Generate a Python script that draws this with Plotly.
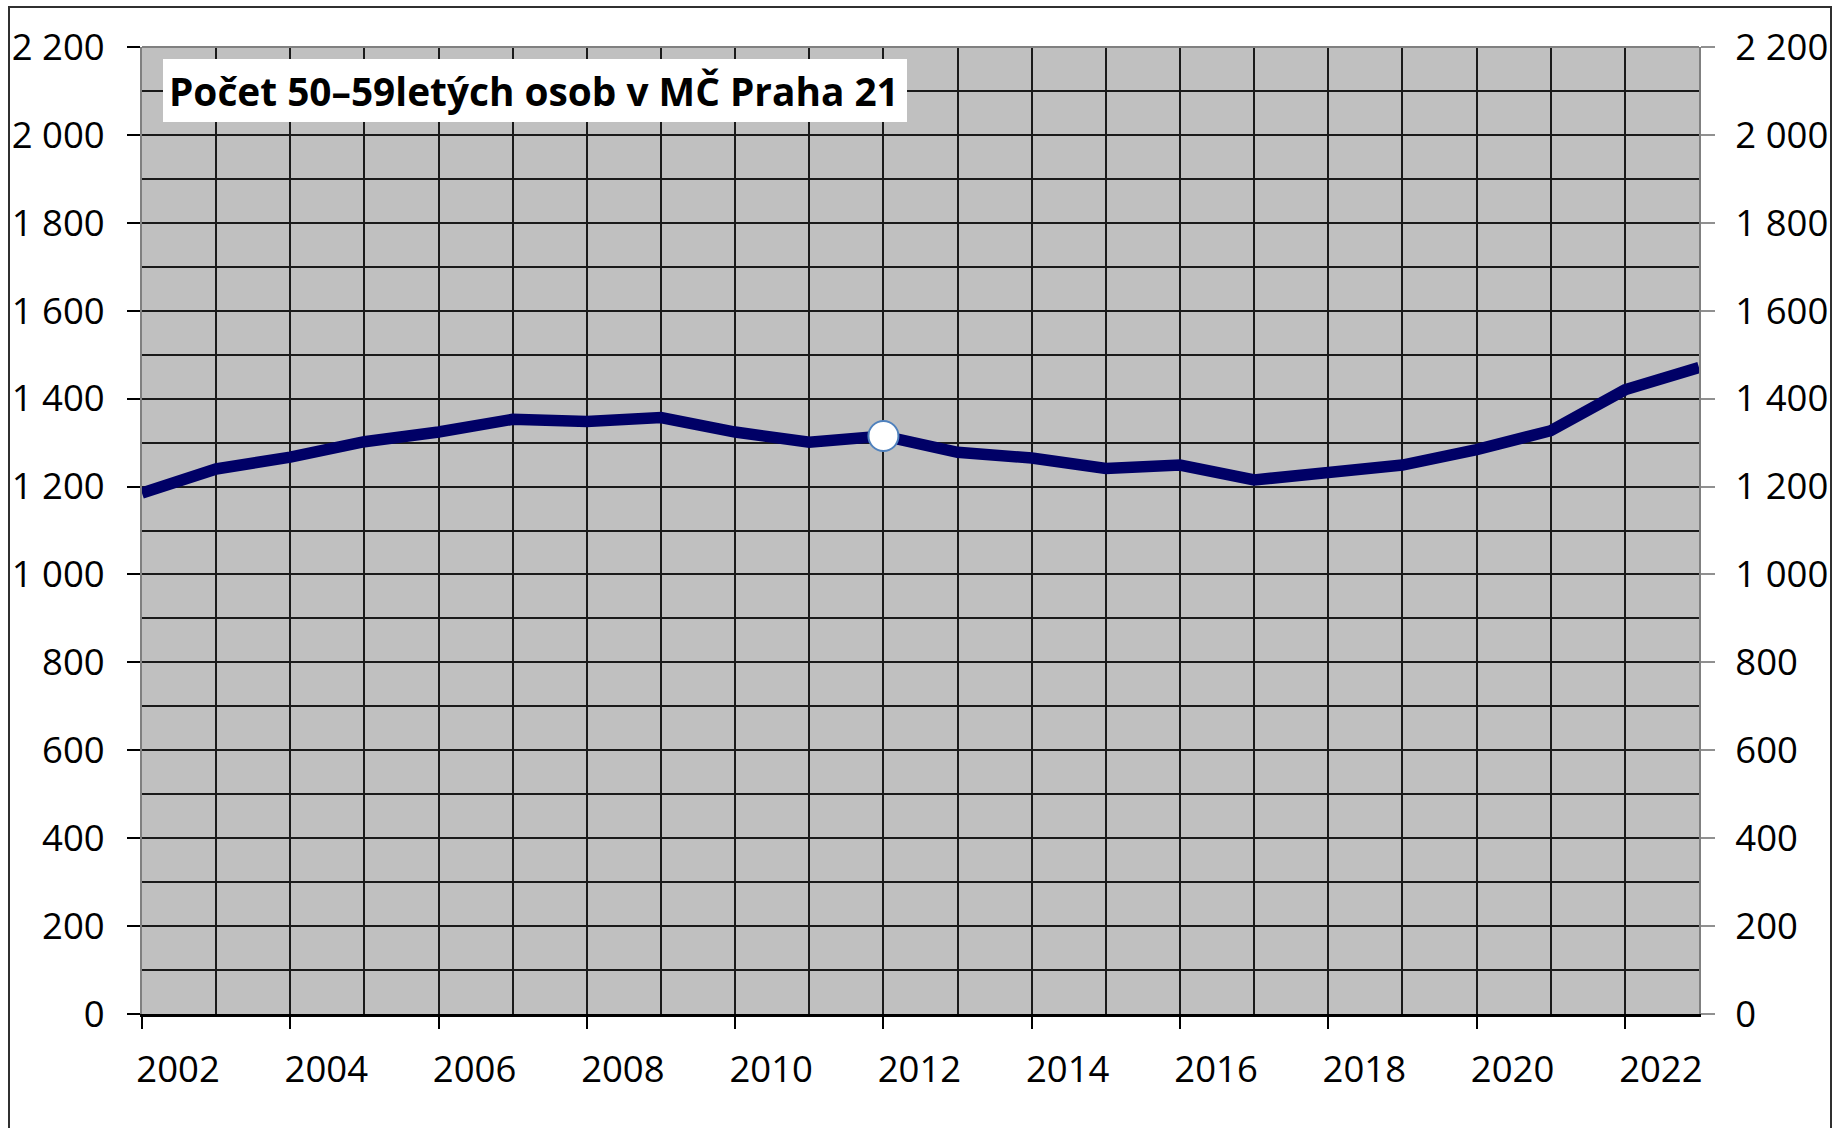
import plotly.graph_objects as go

# ---- data ----
years = list(range(2002, 2024))
persons = [1185, 1240, 1267, 1302, 1324, 1353, 1348, 1357, 1324, 1301, 1315,
           1278, 1265, 1241, 1249, 1215, 1232, 1249, 1284, 1327, 1420, 1471]
highlight_year = 2012
x_tick_years = list(range(2002, 2023, 2))
x_tick_labels = [str(y) for y in x_tick_years]
y_tick_vals = list(range(0, 2201, 200))
y_tick_labels = ["0", "200", "400", "600", "800", "1 000", "1 200", "1 400",
                 "1 600", "1 800", "2 000", "2 200"]
title_text = "Počet 50–59letých osob v MČ Praha 21"

FONT = "Open Sans"
FS = 36.5
W, H = 1835, 1128
L, R, T, B = 142, 136, 47, 114
pw, ph = W - L - R, H - T - B

def px(x):
    return (x - L) / pw

def py(y):
    return (H - B - y) / ph

fig = go.Figure()
fig.add_trace(go.Scatter(
    x=years, y=persons, mode="lines",
    line=dict(color="#000066", width=11.5),
    showlegend=False, hoverinfo="skip",
))
hi = years.index(highlight_year)
fig.add_trace(go.Scatter(
    x=[years[hi]], y=[persons[hi]], mode="markers",
    marker=dict(size=30, color="white", line=dict(color="#4F81BD", width=2)),
    showlegend=False, hoverinfo="skip",
))
fig.add_trace(go.Scatter(x=[years[0]], y=[persons[0]], yaxis="y2", mode="markers",
                         marker=dict(opacity=0), showlegend=False, hoverinfo="skip"))

grid_col = "#1a1a1a"
fig.update_layout(
    template="none",
    width=W, height=H,
    margin=dict(l=L, r=R, t=T, b=B, pad=0, autoexpand=False),
    paper_bgcolor="white", plot_bgcolor="#C0C0C0",
    font=dict(family=FONT, size=FS, color="black"),
    xaxis=dict(
        automargin=False,
        range=[2002, 2023], tickvals=x_tick_years, ticktext=x_tick_labels,
        ticks="outside", ticklen=12, tickwidth=2, tickcolor="black",
        ticklabelshift=36, ticklabelstandoff=9,
        showgrid=True, gridcolor=grid_col, gridwidth=1.6,
        minor=dict(dtick=1, tick0=2002, showgrid=True, gridcolor=grid_col, gridwidth=1.6),
        showline=True, linecolor="black", linewidth=2.5,
        zeroline=False, fixedrange=True,
        tickfont=dict(family=FONT, size=FS),
    ),
    yaxis=dict(
        automargin=False,
        range=[0, 2200], tickvals=y_tick_vals, ticktext=y_tick_labels,
        ticks="outside", ticklen=13, tickwidth=1.5, tickcolor="black",
        ticklabelstandoff=15,
        showgrid=True, gridcolor=grid_col, gridwidth=1.6,
        minor=dict(dtick=100, tick0=0, showgrid=True, gridcolor=grid_col, gridwidth=1.6),
        showline=True, linecolor="#808080", linewidth=2,
        zeroline=False, fixedrange=True,
        tickfont=dict(family=FONT, size=FS),
    ),
    yaxis2=dict(
        automargin=False,
        range=[0, 2200], tickvals=y_tick_vals, ticktext=y_tick_labels,
        overlaying="y", side="right", anchor="x",
        ticks="outside", ticklen=14, tickwidth=1.5, tickcolor="#909090",
        ticklabelstandoff=13,
        showgrid=False, showline=True, linecolor="#808080", linewidth=2,
        zeroline=False, fixedrange=True,
        tickfont=dict(family=FONT, size=FS),
    ),
    shapes=[
        dict(type="line", xref="paper", yref="paper", x0=0, x1=1, y0=1, y1=1,
             line=dict(color="#808080", width=2)),
        dict(type="rect", xref="paper", yref="paper",
             x0=px(163), x1=px(907), y0=py(122), y1=py(59),
             fillcolor="white", line=dict(width=0), layer="above"),
        dict(type="rect", xref="paper", yref="paper",
             x0=px(9), x1=px(1831), y0=py(1140), y1=py(7),
             line=dict(color="#303030", width=2), fillcolor="rgba(0,0,0,0)"),
    ],
    annotations=[
        dict(text="<b>" + title_text + "</b>", xref="paper", yref="paper",
             x=px(167), y=py(91), xanchor="left", yanchor="middle",
             showarrow=False, font=dict(family=FONT, size=38.8, color="black")),
    ],
)

fig.write_html("out.html", config={"displayModeBar": False},
               post_script="document.body.style.margin='0';document.body.style.overflow='hidden';")
